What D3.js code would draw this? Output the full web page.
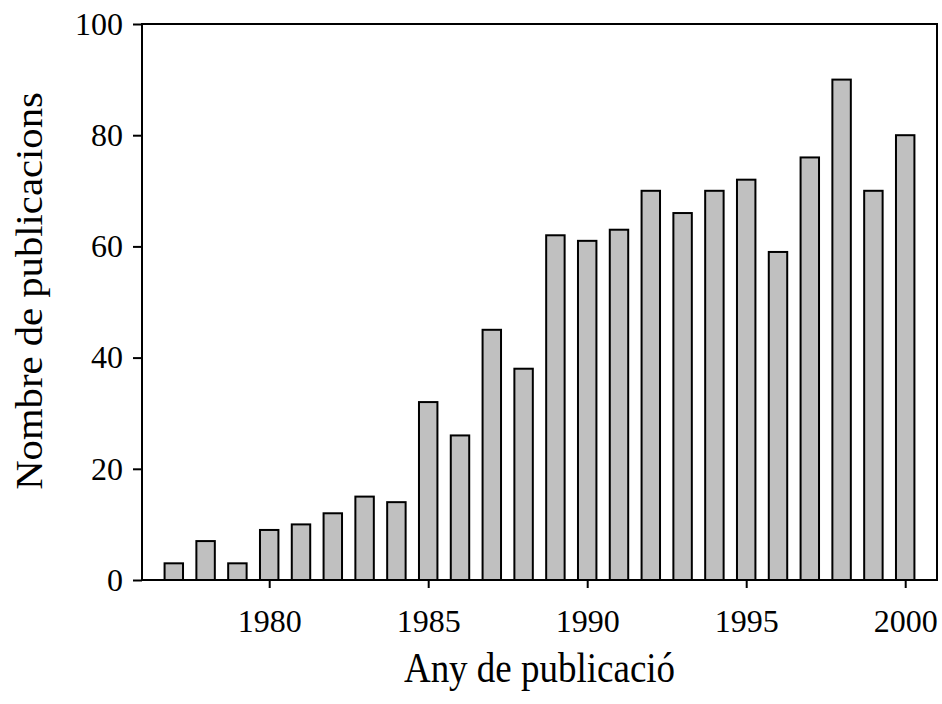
<!DOCTYPE html>
<html>
<head>
<meta charset="utf-8">
<script src="https://cdn.jsdelivr.net/npm/d3@7"></script>
<style>
  body { margin: 0; background: #fff; }
  text { font-family: "Liberation Serif", "Times New Roman", serif; fill: #000; }
</style>
</head>
<body>
<div id="chart"></div>
<script>
// publications per year
const years = [1977, 1978, 1979, 1980, 1981, 1982, 1983, 1984, 1985, 1986, 1987, 1988,
  1989, 1990, 1991, 1992, 1993, 1994, 1995, 1996, 1997, 1998, 1999, 2000];
const counts = [3, 7, 3, 9, 10, 12, 15, 14, 32, 26, 45, 38,
  62, 61, 63, 70, 66, 70, 72, 59, 76, 90, 70, 80];
const xTicks = [1980, 1985, 1990, 1995, 2000];
const yTicks = [0, 20, 40, 60, 80, 100];

const width = 942,
height = 704,
plot = { left: 142, right: 937, top: 24, bottom: 580 };

const svg = d3.select('#chart').
append('svg').
attr('width', width).
attr('height', height);

const x = d3.scaleLinear().
domain([1976, 2001]).
range([plot.left, plot.right]);

const y = d3.scaleLinear().
domain([0, 100]).
range([plot.bottom, plot.top]);

const barWidth = x(1976.58) - x(1976);

svg.selectAll('rect.bar').
data(years).
enter().
append('rect').
attr('class', 'bar').
attr('x', d => x(d) - barWidth / 2).
attr('y', (d, i) => y(counts[i])).
attr('width', barWidth).
attr('height', (d, i) => y(0) - y(counts[i])).
attr('fill', '#c0c0c0').
attr('stroke', '#000').
attr('stroke-width', 2);

// y axis
const yAxis = svg.append('g').
attr('transform', `translate(${plot.left},0)`).
call(d3.axisLeft(y).tickValues(yTicks).tickSize(9).tickPadding(10));

// x axis
const xAxis = svg.append('g').
attr('transform', `translate(0,${plot.bottom})`).
call(d3.axisBottom(x).tickValues(xTicks).tickFormat(d3.format('d')).tickSize(8).tickPadding(21));

[yAxis, xAxis].forEach(a => {
  a.select('.domain').remove();
  a.selectAll('line').attr('stroke', '#000').attr('stroke-width', 2);
  a.selectAll('text').
  style('font-family', '"Liberation Serif", "Times New Roman", serif').
  style('font-size', '32px').
  attr('fill', '#000');
});

// frame
svg.append('rect').
attr('x', plot.left).
attr('y', plot.top).
attr('width', plot.right - plot.left).
attr('height', plot.bottom - plot.top).
attr('fill', 'none').
attr('stroke', '#000').
attr('stroke-width', 2);

// axis titles, slightly stretched vertically like the original
svg.append('text').
attr('text-anchor', 'middle').
attr('transform', `translate(${(plot.left + plot.right) / 2},682) scale(1,1.15)`).
style('font-size', '37px').
text('Any de publicació');

svg.append('text').
attr('text-anchor', 'middle').
attr('transform', `translate(42,291) rotate(-90) scale(1.1,1)`).
style('font-size', '37px').
text('Nombre de publicacions');
</script>
</body>
</html>
